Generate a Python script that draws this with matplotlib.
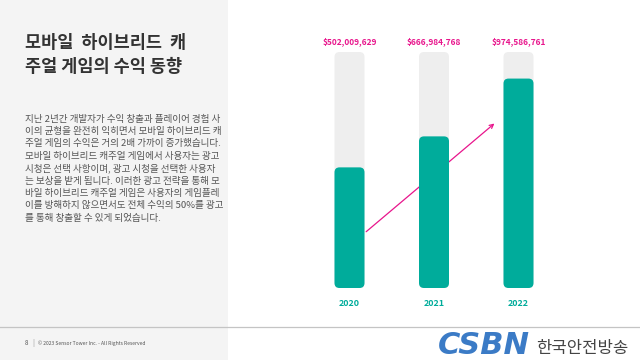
import matplotlib
matplotlib.use("Agg")
import matplotlib.pyplot as plt
from matplotlib.patches import FancyBboxPatch, Rectangle
from matplotlib.lines import Line2D

plt.rcParams['font.family'] = ['Noto Sans CJK KR', 'DejaVu Sans']

# data
years = ['2020', '2021', '2022']
revenue = [502009629, 666984768, 974586761]
value_labels = ['$502,009,629', '$666,984,768', '$974,586,761']

title = '모바일  하이브리드  캐\n주얼 게임의 수익 동향'
body_lines = [
    '지난 2년간 개발자가 수익 창출과 플레이어 경험 사',
    '이의 균형을 완전히 익히면서 모바일 하이브리드 캐',
    '주얼 게임의 수익은 거의 2배 가까이 증가했습니다.',
    '모바일 하이브리드 캐주얼 게임에서 사용자는 광고',
    '시청은 선택 사항이며, 광고 시청을 선택한 사용자',
    '는 보상을 받게 됩니다. 이러한 광고 전략을 통해 모',
    '바일 하이브리드 캐주얼 게임은 사용자의 게임플레',
    '이를 방해하지 않으면서도 전체 수익의 50%를 광고',
    '를 통해 창출할 수 있게 되었습니다.',
]
footer = '© 2023 Sensor Tower Inc. - All Rights Reserved'

TEAL = '#00ac9b'
TRACK = '#eeeeee'
PINK = '#e8158c'

W, H = 640, 360
fig = plt.figure(figsize=(6.4, 3.6), dpi=100)
fig.patch.set_facecolor('white')

# left gray panel + footer rule
fig.patches.append(Rectangle((0, 0), 228 / W, 1, transform=fig.transFigure,
                             facecolor='#f4f4f4', edgecolor='none', zorder=0))
fig.add_artist(Line2D([0, 1], [1 - 327 / H] * 2, transform=fig.transFigure,
                      color='#c4c4c4', lw=0.9))

# texts on the left
fig.text(25 / W, 1 - 55 / H, title, fontsize=12.6, fontweight='bold',
         color='#333333', ha='left', va='center', linespacing=1.4)
for i, line in enumerate(body_lines):
    fig.text(25 / W, 1 - (119 + i * 12.4) / H, line, fontsize=6.9,
             color='#555555', ha='left', va='center')
fig.text(25 / W, 1 - 343 / H, '8', fontsize=4.5, color='#555555', va='center')
fig.text(32 / W, 1 - 343 / H, '|', fontsize=5, color='#999999', va='center')
fig.text(38 / W, 1 - 343 / H, footer, fontsize=3.6, color='#555555', va='center')

# watermark logo
fig.text(438 / W, 1 - 354 / H, 'CSBN', fontsize=22, fontweight='bold',
         fontstyle='italic', color='#3b7bc6', ha='left', va='baseline',
         family='DejaVu Sans')
fig.text(536 / W, 1 - 349 / H, '한국안전방송', fontsize=12, color='#444444',
         ha='left', va='center')

# chart
ax = fig.add_axes([307.25 / W, 72 / H, 253.5 / W, 236 / H])
ax.set_xlim(-0.5, 2.5)
base, top = -140e6, 1116e6
ax.set_ylim(base, top)
ax.axis('off')

fig.canvas.draw()
p0 = ax.transData.transform((0, 0))
p1 = ax.transData.transform((1, 1e6))
xpp = 1 / (p1[0] - p0[0])
ypp = 1e6 / (p1[1] - p0[1])
aspect = ypp / xpp
bw = 30 * xpp
rad = 5 * xpp

for i, v in enumerate(revenue):
    track = FancyBboxPatch((i - bw / 2, base), bw, top - base,
                           boxstyle=f'round,pad=0,rounding_size={rad}',
                           mutation_aspect=aspect, facecolor=TRACK,
                           edgecolor='none', zorder=1)
    ax.add_patch(track)
    bar = FancyBboxPatch((i - bw / 2, base), bw, v - base,
                         boxstyle=f'round,pad=0,rounding_size={rad}',
                         mutation_aspect=aspect, facecolor=TEAL,
                         edgecolor='none', zorder=3)
    ax.add_patch(bar)
    ax.annotate(value_labels[i], (i, top), xytext=(0, 10),
                textcoords='offset pixels', ha='center', va='center',
                fontsize=6, fontweight='bold', color=PINK)
    ax.annotate(years[i], (i, base), xytext=(0, -15),
                textcoords='offset pixels', ha='center', va='center',
                fontsize=6.4, fontweight='bold', color=TEAL)

# growth arrow
ax.annotate('', xy=(1.74, 745e6), xytext=(0.172, 150e6),
            arrowprops=dict(arrowstyle='->', color=PINK, lw=0.9,
                            mutation_scale=7),
            zorder=2)

fig.savefig('out.png', dpi=100)
